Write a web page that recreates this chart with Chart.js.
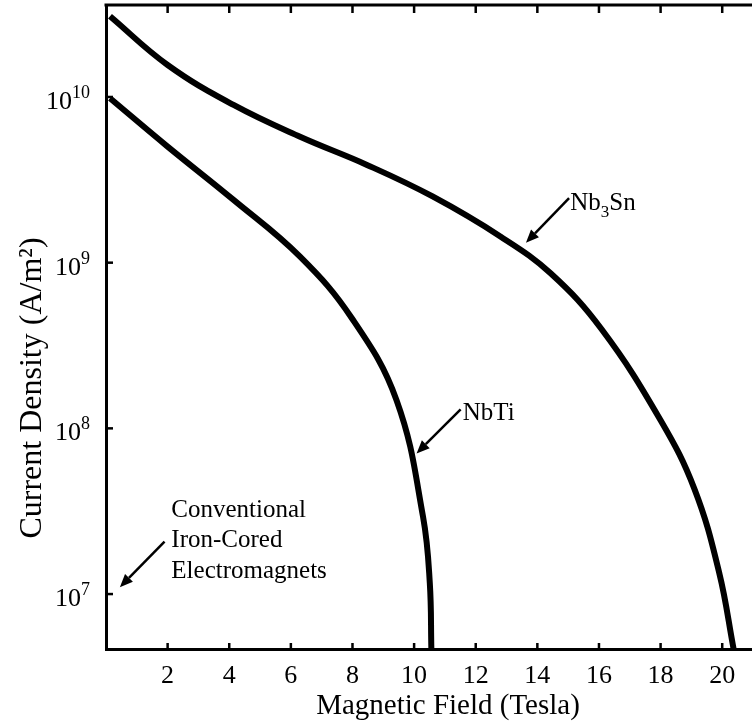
<!DOCTYPE html>
<html>
<head>
<meta charset="utf-8">
<title>Critical current density vs magnetic field</title>
<script src="https://cdn.jsdelivr.net/npm/chart.js"></script>
<style>
  html, body { margin: 0; padding: 0; overflow: hidden; background: #fff; }
</style>
</head>
<body>
<canvas id="jcChart" width="794" height="725"></canvas>
<script>
    // values (field in tesla, current density in A/m^2)
    const fieldNb3Sn = [0.13, 2.0, 4.14, 6.3, 8.47, 10.6, 12.8, 14.43, 16.08, 18.0, 19.1, 19.9, 20.37];
    const jNb3Sn = [3.07e10, 1.56e10, 8.95e9, 5.75e9, 3.89e9, 2.51e9, 1.44e9, 8.63e8, 3.98e8, 1.12e8, 4.3e7, 1.35e7, 4.66e6];

    const fieldNbTi = [0.13, 1.97, 4.13, 6.29, 7.98, 9.43, 10.29, 10.51, 10.56];
    const jNbTi = [9.82e9, 5.07e9, 2.4e9, 1.09e9, 4.62e8, 1.48e8, 2.93e7, 1.16e7, 4.66e6];

    const fieldTicks = [2, 4, 6, 8, 10, 12, 14, 16, 18, 20, 22];
    const densityTicks = [1e7, 1e8, 1e9, 1e10];
    const densityExp = ['7', '8', '9', '10'];

    const serif = '"Liberation Serif", "Times New Roman", serif';

    // label anchors in data units (field, current density)
    const notes = {
        nb3sn: { text: { x: 15.07, y: 2.08e9 }, from: { x: 15.03, y: 2.45e9 }, to: { x: 13.63, y: 1.32e9 } },
        nbti: { text: { x: 11.58, y: 1.12e8 }, from: { x: 11.51, y: 1.30e8 }, to: { x: 10.08, y: 7.06e7 } },
        iron: { text: { x: 2.12, y: 2.92e7 }, from: { x: 1.90, y: 2.07e7 }, to: { x: 0.45, y: 1.10e7 } }
    };
    const ironLines = ['Conventional', 'Iron-Cored', 'Electromagnets'];

    function arrow(ctx, x0, y0, x1, y1) {
        const ang = Math.atan2(y1 - y0, x1 - x0);
        const len = 13, half = 5.5;
        const bx = x1 - len * Math.cos(ang), by = y1 - len * Math.sin(ang);
        ctx.lineWidth = 2.5;
        ctx.beginPath();
        ctx.moveTo(x0, y0);
        ctx.lineTo(bx, by);
        ctx.stroke();
        ctx.beginPath();
        ctx.moveTo(x1, y1);
        ctx.lineTo(bx + half * Math.sin(ang), by - half * Math.cos(ang));
        ctx.lineTo(bx - half * Math.sin(ang), by + half * Math.cos(ang));
        ctx.closePath();
        ctx.fill();
    }

    const decor = {
        id: 'decor',
        afterDraw(chart) {
            const { ctx, chartArea: a, scales: { x, y } } = chart;
            const P = p => [x.getPixelForValue(p.x), y.getPixelForValue(p.y)];
            ctx.save();
            ctx.strokeStyle = '#000';
            ctx.fillStyle = '#000';

            // top frame line
            ctx.lineWidth = 3;
            ctx.beginPath();
            ctx.moveTo(a.left - 1.5, a.top);
            ctx.lineTo(a.right, a.top);
            ctx.stroke();

            // inward tick marks
            ctx.lineWidth = 2.5;
            fieldTicks.forEach(v => {
                const px = x.getPixelForValue(v);
                ctx.beginPath();
                ctx.moveTo(px, a.bottom);
                ctx.lineTo(px, a.bottom - 6);
                ctx.moveTo(px, a.top);
                ctx.lineTo(px, a.top + 8);
                ctx.stroke();
            });

            // y ticks and 10^n labels
            densityTicks.forEach((v, i) => {
                const py = y.getPixelForValue(v);
                ctx.lineWidth = 2.5;
                ctx.beginPath();
                ctx.moveTo(a.left, py);
                ctx.lineTo(a.left + 7, py);
                ctx.stroke();
                ctx.textAlign = 'right';
                ctx.textBaseline = 'alphabetic';
                ctx.font = '18px ' + serif;
                const ew = ctx.measureText(densityExp[i]).width;
                ctx.fillText(densityExp[i], a.left - 16, py + 1);
                ctx.font = '26px ' + serif;
                ctx.fillText('10', a.left - 16 - ew, py + 12);
            });

            // y axis title
            ctx.save();
            ctx.translate(a.left - 65, 388);
            ctx.rotate(-Math.PI / 2);
            ctx.textAlign = 'center';
            ctx.textBaseline = 'alphabetic';
            ctx.font = '32px ' + serif;
            ctx.fillText('Current Density (A/m²)', 0, 0);
            ctx.restore();

            // annotations
            ctx.textAlign = 'left';
            ctx.textBaseline = 'alphabetic';
            Object.values(notes).forEach(n => {
                const [x0, y0] = P(n.from), [x1, y1] = P(n.to);
                arrow(ctx, x0, y0, x1, y1);
            });

            let [tx, ty] = P(notes.nb3sn.text);
            ctx.font = '25px ' + serif;
            ctx.fillText('Nb', tx, ty);
            tx += ctx.measureText('Nb').width;
            ctx.font = '17px ' + serif;
            ctx.fillText('3', tx, ty + 7);
            tx += ctx.measureText('3').width;
            ctx.font = '25px ' + serif;
            ctx.fillText('Sn', tx, ty);

            [tx, ty] = P(notes.nbti.text);
            ctx.fillText('NbTi', tx, ty);

            [tx, ty] = P(notes.iron.text);
            ironLines.forEach((s, i) => ctx.fillText(s, tx, ty + i * 30.5));

            ctx.restore();
        }
    };

    new Chart(document.getElementById('jcChart'), {
        type: 'line',
        data: {
            datasets: [
                {
                    label: 'Nb₃Sn',
                    data: fieldNb3Sn.map((b, i) => ({ x: b, y: jNb3Sn[i] })),
                    borderColor: '#000',
                    borderWidth: 6,
                    pointRadius: 0,
                    fill: false,
                    tension: 0.4
                },
                {
                    label: 'NbTi',
                    data: fieldNbTi.map((b, i) => ({ x: b, y: jNbTi[i] })),
                    borderColor: '#000',
                    borderWidth: 6,
                    pointRadius: 0,
                    fill: false,
                    tension: 0.4
                }
            ]
        },
        options: {
            responsive: false,
            animation: false,
            layout: { padding: { top: 5, right: 0, bottom: 0, left: 0 } },
            plugins: {
                legend: { display: false },
                tooltip: { enabled: false }
            },
            scales: {
                x: {
                    type: 'linear',
                    min: 0,
                    max: 22.2,
                    afterFit: s => { s.height = 76; },
                    grid: { display: false },
                    border: { display: true, color: '#000', width: 3 },
                    ticks: {
                        stepSize: 2,
                        autoSkip: false,
                        maxRotation: 0,
                        color: '#000',
                        padding: 4,
                        font: { family: serif, size: 26 },
                        callback: v => (v > 0 && v <= 20 && v % 2 === 0) ? String(v) : ''
                    },
                    title: {
                        display: true,
                        text: 'Magnetic Field (Tesla)',
                        color: '#000',
                        font: { family: serif, size: 29, lineHeight: 1.2 },
                        padding: { top: 0, bottom: 1 }
                    }
                },
                y: {
                    type: 'logarithmic',
                    min: 4.66e6,
                    max: 3.59e10,
                    afterFit: s => { s.width = 106; },
                    grid: { display: false },
                    border: { display: true, color: '#000', width: 3 },
                    ticks: { display: false }
                }
            }
        },
        plugins: [decor]
    });
</script>
</body>
</html>
